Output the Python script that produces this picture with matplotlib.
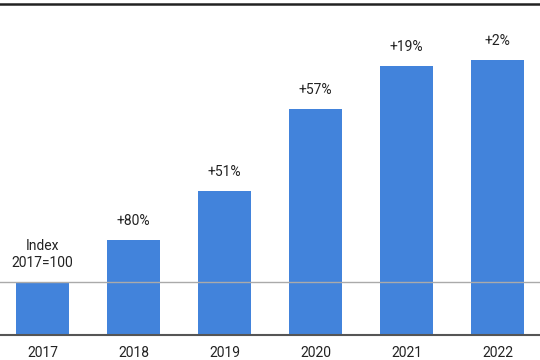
import matplotlib
matplotlib.use("Agg")
import matplotlib.pyplot as plt
import numpy as np

years = ["2017", "2018", "2019", "2020", "2021", "2022"]
index_values = [100, 180, 272, 427, 508, 518]
labels = ["Index\n2017=100", "+80%", "+51%", "+57%", "+19%", "+2%"]

plt.rcParams["font.family"] = ["Roboto", "DejaVu Sans"]

fig = plt.figure(figsize=(5.4, 3.6), dpi=100)
ax = fig.add_axes([0, 0.0694, 1, 0.9208])

x = np.arange(len(years))
bars = ax.bar(x, index_values, width=0.58, color="#4283DB", zorder=2)

ax.axhline(100, color="#AAAAAA", linewidth=1, zorder=3)

for xi, v, lab in zip(x, index_values, labels):
    ax.annotate(lab, (xi, v), xytext=(0, 12), textcoords="offset pixels",
                ha="center", va="bottom", fontsize=10, color="#222222",
                linespacing=1.3)

ax.set_xlim(-0.467, 5.467)
ax.set_ylim(0, 625)
ax.set_xticks(x)
ax.set_xticklabels(years, fontsize=10, color="#222222")
ax.tick_params(axis="x", length=0, pad=8)
ax.set_yticks([])

for side in ["left", "right"]:
    ax.spines[side].set_visible(False)
ax.spines["top"].set_color("#222222")
ax.spines["top"].set_linewidth(1.8)
ax.spines["bottom"].set_color("#555555")
ax.spines["bottom"].set_linewidth(1.5)
ax.spines["bottom"].set_zorder(4)

fig.savefig("out.png", dpi=100)
